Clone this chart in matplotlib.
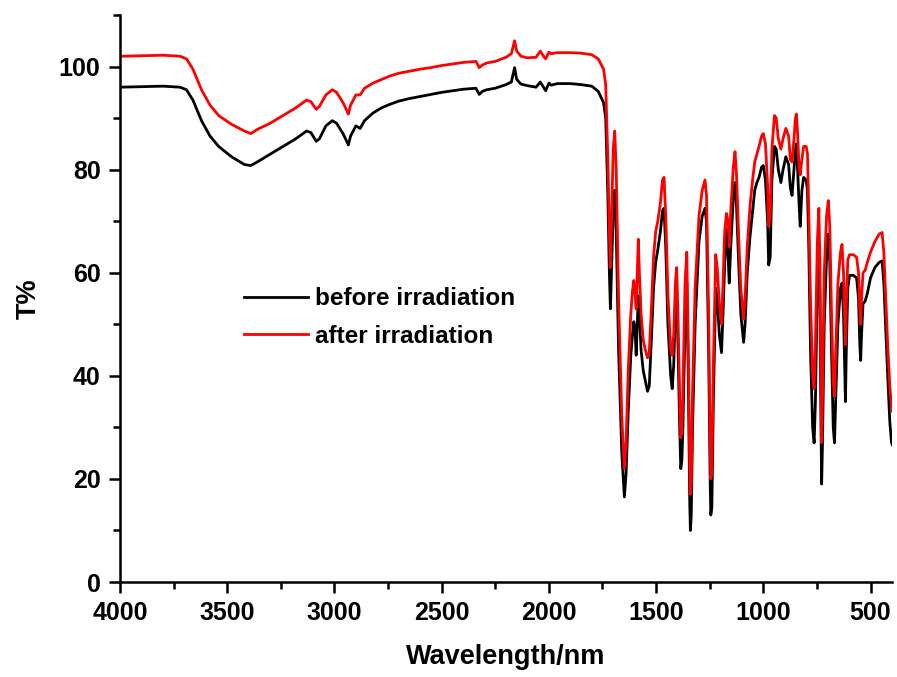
import numpy as np
import matplotlib.pyplot as plt
from matplotlib.ticker import MultipleLocator

plt.rcParams['font.family'] = ['Liberation Sans', 'DejaVu Sans']
plt.rcParams['font.weight'] = 'bold'

## the data (wavenumber, T%)
before_wn = [4000, 3900, 3800, 3720, 3690, 3660, 3620, 3580, 3540, 3480, 3420, 3390,
             3360, 3300, 3240, 3180, 3130, 3110, 3085, 3070, 3040, 3010, 2990, 2960,
             2935, 2925, 2900, 2880, 2860, 2820, 2780, 2740, 2700, 2650, 2600, 2550,
             2500, 2450, 2400, 2340, 2325, 2310, 2290, 2250, 2200, 2175, 2160, 2150,
             2130, 2100, 2060, 2040, 2025, 2015, 2000, 1990, 1960, 1900, 1850, 1800,
             1770, 1745, 1735, 1725, 1718, 1713, 1707, 1700, 1693, 1686, 1675, 1660,
             1648, 1640, 1630, 1618, 1610, 1604, 1598, 1593, 1588, 1583, 1578, 1570,
             1560, 1550, 1540, 1532, 1522, 1512, 1502, 1492, 1480, 1470, 1463, 1455,
             1445, 1432, 1425, 1418, 1410, 1404, 1398, 1390, 1385, 1380, 1375, 1365,
             1357, 1350, 1343, 1340, 1336, 1330, 1318, 1300, 1285, 1272, 1265, 1255,
             1248, 1245, 1240, 1233, 1222, 1215, 1205, 1195, 1188, 1180, 1172, 1165,
             1159, 1152, 1140, 1132, 1125, 1115, 1105, 1092, 1085, 1075, 1062, 1050,
             1040, 1030, 1020, 1008, 1000, 990, 980, 975, 968, 960, 948, 940, 930, 918,
             908, 895, 882, 874, 866, 857, 850, 846, 840, 834, 828, 820, 812, 800, 794,
             788, 780, 770, 763, 757, 748, 741, 736, 731, 728, 724, 716, 705, 697, 690,
             682, 674, 668, 662, 652, 640, 633, 626, 620, 617, 613, 606, 598, 580, 565,
             556, 550, 546, 542, 535, 525, 515, 500, 480, 460, 446, 438, 430, 420, 410,
             402, 397, 393]
before_t = [96.0, 96.1, 96.2, 96.0, 95.5, 93.5, 89.5, 86.5, 84.5, 82.5, 81.0, 80.8,
            81.5, 83.0, 84.5, 86.0, 87.5, 87.2, 85.5, 86.0, 88.5, 89.5, 89.0, 87.0,
            84.8, 86.5, 88.5, 88.0, 89.5, 91.0, 92.0, 92.7, 93.3, 93.8, 94.2, 94.6,
            95.0, 95.3, 95.6, 95.8, 94.6, 95.2, 95.5, 95.8, 96.5, 97.0, 99.8, 97.5,
            96.6, 96.3, 96.0, 97.0, 96.0, 95.3, 96.8, 96.4, 96.7, 96.7, 96.5, 96.2,
            95.2, 93.0, 90.0, 75.0, 60.0, 53.0, 62.0, 72.0, 76.0, 68.0, 45.0, 25.0,
            16.5, 21.0, 33.0, 44.0, 48.0, 50.5, 49.0, 44.0, 50.0, 55.5, 52.0, 45.0,
            41.0, 39.0, 37.0, 38.0, 47.0, 57.0, 62.0, 64.5, 68.0, 72.0, 72.5, 65.0,
            50.0, 40.0, 37.5, 42.0, 53.0, 55.0, 46.0, 30.0, 22.0, 23.5, 30.0, 50.0,
            58.0, 40.0, 15.0, 10.0, 13.0, 30.0, 50.0, 66.0, 71.0, 72.5, 70.0, 45.0,
            20.0, 13.0, 14.5, 35.0, 57.0, 55.0, 48.0, 44.5, 52.0, 62.0, 68.5, 64.0,
            58.0, 65.0, 74.5, 77.5, 73.0, 62.0, 52.0, 46.5, 50.0, 60.0, 67.0, 72.0,
            76.0, 77.5, 78.5, 80.5, 80.8, 78.0, 70.0, 61.5, 63.0, 78.0, 84.5, 84.0, 80.0, 77.5,
            80.0, 82.5, 81.0, 76.5, 75.0, 80.0, 84.0, 85.0, 80.0, 74.0, 69.0, 76.0, 78.5, 78.0, 76.0,
            65.0, 45.0, 30.0, 27.0, 35.0, 58.0, 65.0, 55.0, 30.0, 19.0, 27.0, 50.0, 63.0, 67.5, 62.0,
            45.0, 30.0, 27.0, 36.0, 50.0, 57.0, 58.0, 52.0, 40.0, 35.0, 45.0, 57.0, 59.5, 59.5, 59.0,
            55.0, 46.0, 43.0, 48.0, 54.0, 54.5, 56.0, 59.0, 61.0, 62.0, 62.3, 58.0, 50.0, 40.0, 31.0,
            27.0, 26.5, 30.0]

after_wn = before_wn
after_t = [102.0, 102.1, 102.2, 102.0, 101.5, 99.5, 95.5, 92.5, 90.5, 88.8, 87.5, 87.0,
           87.8, 89.0, 90.5, 92.0, 93.5, 93.2, 91.7, 92.3, 94.5, 95.5, 95.0, 93.0,
           90.8, 92.5, 94.5, 94.5, 95.8, 96.8, 97.5, 98.2, 98.7, 99.1, 99.5, 99.8,
           100.2, 100.5, 100.8, 101.0, 99.8, 100.3, 100.7, 101.0, 101.8, 102.5, 105.0, 103.0,
           102.0, 101.7, 101.8, 103.0, 102.0, 101.5, 102.8, 102.5, 102.7, 102.7, 102.6, 102.3,
           101.5, 99.5, 96.5, 82.0, 68.0, 61.0, 72.0, 84.0, 87.5, 80.0, 55.0, 32.0,
           22.0, 27.0, 41.0, 52.0, 56.5, 58.5, 56.0, 53.0, 60.0, 66.5, 60.0, 52.0,
           47.0, 45.0, 43.5, 44.5, 53.0, 63.0, 68.0, 70.0, 73.5, 78.0, 78.5, 71.0,
           56.0, 45.0, 44.0, 48.0, 58.0, 61.0, 52.0, 36.0, 28.0, 29.0, 37.0, 58.0,
           64.0, 46.0, 22.0, 17.0, 19.0, 37.0, 57.0, 71.0, 76.0, 78.0, 75.0, 52.0,
           27.0, 20.0, 21.5, 42.0, 63.5, 61.0, 54.0, 50.0, 58.0, 68.0, 71.5, 70.0,
           65.0, 72.0, 80.5, 83.5, 79.0, 67.0, 57.0, 51.0, 55.0, 65.0, 73.0, 78.0,
           81.5, 83.0, 84.5, 86.5, 87.0, 85.0, 77.0, 69.0, 71.0, 84.0, 90.5, 90.0, 86.0, 84.0,
           86.0, 88.0, 86.5, 82.0, 81.5, 86.0, 90.0, 90.8, 87.0, 81.0, 79.0, 82.0, 84.5, 84.5, 83.0,
           72.0, 55.0, 40.0, 37.5, 46.0, 66.0, 72.5, 62.0, 38.0, 27.0, 36.0, 60.0, 71.0, 74.0, 69.0,
           52.0, 39.0, 36.0, 45.0, 58.0, 64.0, 65.5, 60.0, 50.0, 46.0, 54.0, 62.5, 63.5, 63.5, 63.0,
           60.0, 53.0, 50.0, 55.0, 60.0, 60.5, 62.0, 64.0, 66.0, 67.5, 67.8, 64.0, 56.0, 46.0, 38.0,
           34.0, 33.0, 35.0]

fig = plt.figure(figsize=(8.97, 6.77), dpi=100)
ax = fig.add_axes([0.1338, 0.1403, 0.8606, 0.8375])

ax.plot(before_wn, before_t, color='black', lw=2.0, label='before irradiation')
ax.plot(after_wn, after_t, color='#ff0000', lw=2.0, label='after irradiation')

# axes and labels
ax.set_xlim(4000, 400)
ax.set_ylim(0, 110)
ax.xaxis.set_major_locator(MultipleLocator(500))
ax.xaxis.set_minor_locator(MultipleLocator(250))
ax.yaxis.set_major_locator(MultipleLocator(20))
ax.yaxis.set_minor_locator(MultipleLocator(10))
for s in ['top', 'right']:
    ax.spines[s].set_visible(False)
for s in ['left', 'bottom']:
    ax.spines[s].set_linewidth(1.8)
ax.tick_params(which='major', length=8, width=1.8, labelsize=18, pad=6)
ax.tick_params(which='minor', length=5, width=1.8)
ax.set_xlabel('Wavelength/nm', fontsize=19.5, fontweight='bold', labelpad=13)
ax.set_ylabel('T%', fontsize=19.5, fontweight='bold', labelpad=12)

## add a legend
ax.legend(loc='upper left', bbox_to_anchor=(0.16, 0.52), frameon=False,
          fontsize=17.5, handlelength=2.65, handletextpad=0.3, labelspacing=0.6,
          borderpad=0, borderaxespad=0)

fig.savefig('out.png', dpi=100)
